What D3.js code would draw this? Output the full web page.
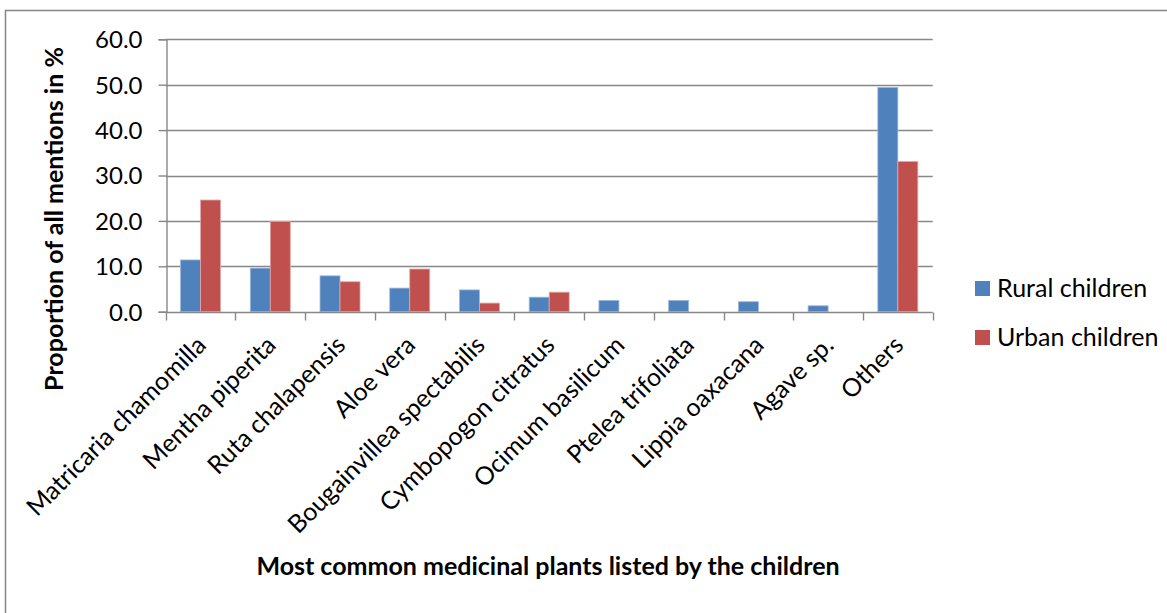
<!DOCTYPE html>
<html>
<head>
<meta charset="utf-8">
<script src="https://cdn.jsdelivr.net/npm/d3@7/dist/d3.min.js"></script>
<style>
  html, body { margin: 0; padding: 0; background: #fff; }
  svg { display: block; }
  text { font-family: "Lato", "Open Sans", sans-serif; fill: #000; }
</style>
</head>
<body>
<svg id="chart" width="1167" height="613"></svg>
<script>
// Most common medicinal plants named by rural and urban children (% of all mentions)
const categories = [
  "Matricaria chamomilla", "Mentha piperita", "Ruta chalapensis", "Aloe vera",
  "Bougainvillea spectabilis", "Cymbopogon citratus", "Ocimum basilicum",
  "Ptelea trifoliata", "Lippia oaxacana", "Agave sp.", "Others"
];
const seriesNames = ["Rural children", "Urban children"];
const ruralValues = [11.4, 9.6, 7.9, 5.2, 4.8, 3.2, 2.5, 2.5, 2.2, 1.3, 49.4];
const urbanValues = [24.6, 19.9, 6.6, 9.4, 1.9, 4.3, 0, 0, 0, 0, 33.1];
const yTicks = [0, 10, 20, 30, 40, 50, 60];
const seriesColors = ["#4F81BD", "#C0504D"];

const svg = d3.select("#chart");
const W = 1167, H = 613;

// chart area frame
svg.append("rect")
  .attr("x", 5.5).attr("y", 10.5)
  .attr("width", W + 10).attr("height", H + 10)
  .attr("fill", "#fff").attr("stroke", "#868686").attr("stroke-width", 1.5);

const plot = { left: 165.7, right: 932.7, top: 39.3, bottom: 311.7 };

const y = d3.scaleLinear().domain([0, 60]).range([plot.bottom, plot.top]);
const x0 = d3.scaleBand().domain(categories).range([plot.left, plot.right])
  .paddingInner(0).paddingOuter(0);
const x1 = d3.scaleBand().domain(seriesNames).range([0, x0.bandwidth()])
  .paddingInner(0).paddingOuter(0.743);

const gridColor = "#888888";

// horizontal gridlines
svg.append("g").selectAll("line").data(yTicks.filter(t => t > 0)).join("line")
  .attr("x1", plot.left).attr("x2", plot.right)
  .attr("y1", d => Math.round(y(d)) + 0.5).attr("y2", d => Math.round(y(d)) + 0.5)
  .attr("stroke", gridColor).attr("stroke-width", 1.4);

// y axis
const yAxis = svg.append("g")
  .attr("transform", `translate(${Math.round(plot.left) + 0.5},0)`)
  .call(d3.axisLeft(y).tickValues(yTicks).tickFormat(d3.format(".1f"))
    .tickSize(8).tickPadding(16));
yAxis.select(".domain").attr("stroke", gridColor).attr("stroke-width", 1.4);
yAxis.selectAll(".tick line").attr("stroke", gridColor).attr("stroke-width", 1.4);
yAxis.selectAll(".tick text")
  .style("font-family", "Lato, 'Open Sans', sans-serif")
  .style("font-size", "24px").attr("fill", "#000").attr("dy", "0.35em");

// bars
const rows = categories.map((c, i) => ({ cat: c, vals: [ruralValues[i], urbanValues[i]] }));
const groups = svg.append("g").selectAll("g").data(rows).join("g")
  .attr("transform", d => `translate(${x0(d.cat)},0)`);
groups.selectAll("rect")
  .data(d => d.vals.map((v, j) => ({ key: seriesNames[j], v, j })).filter(e => e.v > 0))
  .join("rect")
  .attr("x", e => x1(e.key))
  .attr("width", x1.bandwidth())
  .attr("y", e => y(e.v))
  .attr("height", e => y(0) - y(e.v))
  .attr("fill", e => seriesColors[e.j])
  .attr("stroke", e => e.j === 0 ? "#9DB9DE" : "#E3A9A8")
  .attr("stroke-width", 0.8);

// x axis line and category boundary ticks
const xAxisY = Math.round(plot.bottom) + 0.5;
svg.append("line")
  .attr("x1", plot.left).attr("x2", plot.right)
  .attr("y1", xAxisY).attr("y2", xAxisY)
  .attr("stroke", gridColor).attr("stroke-width", 1.4);
const boundaries = categories.map(c => x0(c)).concat([plot.right]);
svg.append("g").selectAll("line").data(boundaries).join("line")
  .attr("x1", d => Math.round(d) + 0.5).attr("x2", d => Math.round(d) + 0.5)
  .attr("y1", xAxisY).attr("y2", xAxisY + 8)
  .attr("stroke", gridColor).attr("stroke-width", 1.4);

// rotated category labels
svg.append("g").selectAll("text").data(categories).join("text")
  .attr("transform", d => `translate(${x0(d) + x0.bandwidth() / 2 + 7},${plot.bottom + 35}) rotate(-45)`)
  .attr("text-anchor", "end")
  .style("font-size", "25px")
  .text(d => d);

// axis titles
svg.append("text")
  .attr("transform", `translate(63,${(47 + 391) / 2}) rotate(-90)`)
  .attr("text-anchor", "middle")
  .style("font-size", "25px").style("font-weight", "bold")
  .text("Proportion of all mentions in %");

svg.append("text")
  .attr("x", 548).attr("y", 575)
  .attr("text-anchor", "middle")
  .style("font-size", "25px").style("font-weight", "bold")
  .text("Most common medicinal plants listed by the children");

// legend
const legend = svg.append("g").selectAll("g").data(seriesNames).join("g")
  .attr("transform", (d, i) => `translate(975,${281 + i * 49})`);
legend.append("rect")
  .attr("width", 15).attr("height", 15)
  .attr("fill", (d, i) => seriesColors[i]);
legend.append("text")
  .attr("x", 22).attr("y", 16)
  .style("font-size", "25px")
  .text(d => d);
</script>
</body>
</html>
